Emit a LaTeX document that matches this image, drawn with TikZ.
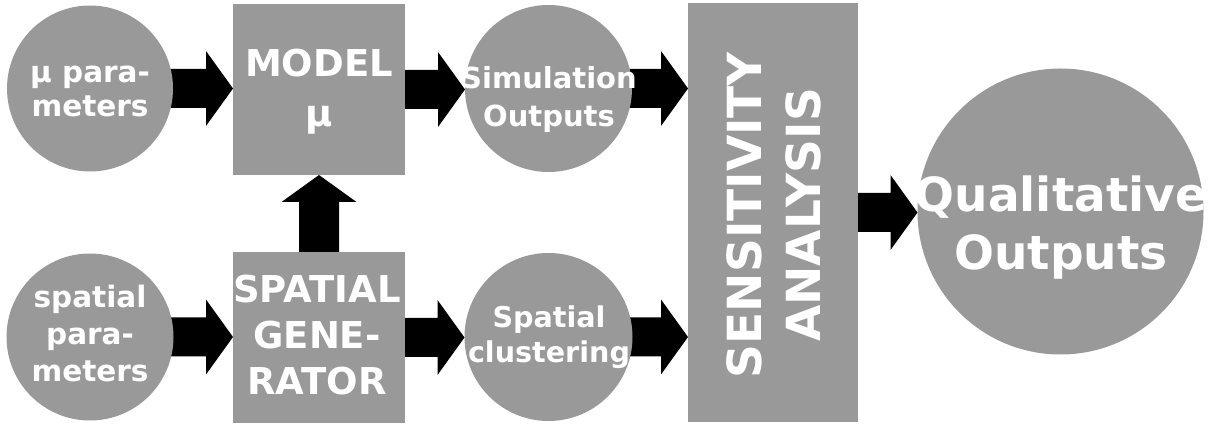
\documentclass[tikz,border=0pt]{standalone}
\usepackage{fontspec}
\setmainfont{DejaVu Sans}
\usetikzlibrary{calc,backgrounds}
\definecolor{blobgray}{HTML}{999999}
\tikzset{
  shapefill/.style={fill=blobgray, draw=none, inner sep=0pt, outer sep=0pt},
  roundblob/.style={shapefill, circle},
  boxblob/.style={shapefill, rectangle},
  lbl/.style 2 args={text=white, align=center, inner sep=0pt, anchor=base,
    font=\bfseries\fontsize{#1}{#2}\selectfont},
  fatarrow/.style={fill=black, draw=none},
}
\newcommand{\blockH}[2]{%
  \fill[fatarrow] let \p1=(#1.east), \p2=(#2.west) in
    (\x1-6pt,\y1+19.5pt) -- (\x2-27pt,\y1+19.5pt) -- (\x2-27pt,\y1+37.5pt)
    -- (\x2,\y1) -- (\x2-27pt,\y1-37.5pt) -- (\x2-27pt,\y1-19.5pt)
    -- (\x1-6pt,\y1-19.5pt) -- cycle;}
\newcommand{\blockV}[2]{%
  \fill[fatarrow] let \p1=(#1.north), \p2=(#2.south) in
    (\x1-20pt,\y1-6pt) -- (\x1-20pt,\y2-27pt) -- (\x1-37.5pt,\y2-27pt)
    -- (\x1,\y2) -- (\x1+37.5pt,\y2-27pt) -- (\x1+20pt,\y2-27pt)
    -- (\x1+20pt,\y1-6pt) -- cycle;}
\begin{document}
\begin{tikzpicture}[x=1pt,y=1pt]
\useasboundingbox (0,0) rectangle (1211,426);
% shapes
\node[roundblob, minimum size=166pt] (mu) at (90,337.5) {};
\node[boxblob, minimum width=172pt, minimum height=171pt] (model) at (319,336.5) {};
\node[roundblob, minimum size=167pt] (sim) at (548.5,337.5) {};
\node[roundblob, minimum size=167pt] (sp) at (90,89) {};
\node[boxblob, minimum width=172pt, minimum height=171pt] (gen) at (319,88.5) {};
\node[roundblob, minimum size=168pt] (clu) at (548.5,89) {};
\node[boxblob, minimum width=169.5pt, minimum height=419pt] (sens) at (772.75,213.5) {};
\node[roundblob, minimum size=286pt] (qual) at (1060.5,214.5) {};
% arrows
\begin{scope}[on background layer]
  \blockH{mu}{model}
  \blockH{model}{sim}
  \blockH{sim}{sens}
  \blockH{sp}{gen}
  \blockH{gen}{clu}
  \blockH{clu}{sens}
  \blockH{sens}{qual}
  \blockV{gen}{model}
\end{scope}
% labels (anchor=base sits on the last line's baseline)
\node[lbl={29.5}{34}] (mu-t) at (90,309) {μ para-\\meters};
\node[lbl={37}{50}] (model-t) at (319,299) {MODEL\\μ};
\node[lbl={29}{38}] (sim-t) at (549,299) {Simulation\\Outputs};
\node[lbl={29.5}{37.5}] (sp-t) at (90,44) {spatial\\para-\\meters};
\node[lbl={37}{46.5}] (gen-t) at (317,31) {SPATIAL\\GENE-\\RATOR};
\node[lbl={28.6}{36}] (clu-t) at (549,63) {Spatial\\clustering};
\node[lbl={47}{58}] (qual-t) at (1061,156) {Qualitative\\Outputs};
\node[lbl={47}{59}, rotate=90] (sens-t) at (820,211) {SENSITIVITY\\ANALYSIS};
\end{tikzpicture}
\end{document}
